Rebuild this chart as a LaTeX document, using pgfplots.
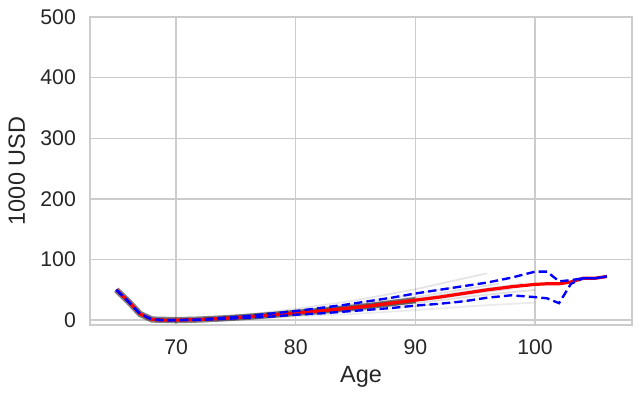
\documentclass[border=0pt]{standalone}
\usepackage{pgfplots}
\pgfplotsset{compat=1.18}
\usepackage{fontspec}
\setmainfont{Liberation Sans}
\definecolor{gridgray}{HTML}{CCCCCC}
\definecolor{textgray}{HTML}{262626}
\begin{document}
\begin{tikzpicture}
\useasboundingbox (0,0) rectangle (462.24pt,285.84pt);
\begin{axis}[
    at={(64.8pt,51.84pt)},
    anchor=south west,
    scale only axis,
    width=390.24pt,
    height=221.76pt,
    xmin=62.8, xmax=108.1,
    ymin=-8, ymax=500,
    xtick={70,80,90,100},
    ytick={0,100,200,300,400,500},
    major tick length=0pt,
    grid=major,
    grid style={gridgray, line width=1pt},
    axis line style={gridgray, line width=1.2pt},
    tick label style={font=\fontsize{15.3}{17}\selectfont, inner sep=0pt, text=textgray},
    /pgf/number format/assume math mode=true,
    xticklabel style={anchor=north, yshift=-10pt},
    yticklabel style={anchor=east, xshift=-10pt},
    xlabel={Age},
    ylabel={1000 USD},
    every axis x label/.style={at={(axis description cs:0.5,-0.188)}, anchor=base, text=textgray, font=\fontsize{16.9}{19}\selectfont},
    every axis y label/.style={at={(axis description cs:-0.12,0.5)}, anchor=base, rotate=90, text=textgray, font=\fontsize{16.9}{19}\selectfont},
]
% simulated paths (faint)
\addplot[black, opacity=0.10, line width=1.3pt] coordinates {(68,1) (70,0) (75,7) (80,18.6) (85,32.6) (90,51) (95,73) (96,77)};
\addplot[black, opacity=0.10, line width=1.3pt] coordinates {(68,1) (70,0) (75,5.9) (80,15.6) (85,27.3) (90,43) (94,57)};
\addplot[black, opacity=0.12, line width=1.3pt] coordinates {(68,1) (70,0) (75,5.2) (80,13.8) (85,24.2) (90,38) (95,54) (97,60)};
\addplot[black, opacity=0.14, line width=1.3pt] coordinates {(68,1) (70,0) (75,4.7) (80,12.6) (85,22) (90,34.6) (95,49.4) (99,60)};
\addplot[black, opacity=0.14, line width=1.3pt] coordinates {(68,1) (70,0) (75,4.3) (80,11.4) (85,20) (90,31.4) (95,44.7) (98,52)};
\addplot[black, opacity=0.12, line width=1.3pt] coordinates {(68,1) (70,0) (75,3.8) (80,10.2) (85,17.9) (90,28) (95,40) (100,50)};
\addplot[black, opacity=0.10, line width=1.3pt] coordinates {(68,1) (70,0) (75,3.2) (80,8.4) (85,14.7) (90,23.1) (95,32.9)};
\addplot[black, opacity=0.08, line width=1.3pt] coordinates {(68,1) (70,0) (75,2.3) (80,6) (85,10.5) (90,16.5) (95,23.5) (100,29)};
\addplot[black, opacity=0.18, line width=1.3pt] coordinates {(68,1) (70,0) (75,4.5) (80,12) (85,21) (90,33) (92,38)};
\addplot[black, opacity=0.18, line width=1.3pt] coordinates {(68,1) (70,0) (75,4.0) (80,10.8) (85,18.9) (90,29.7)};
\addplot[black, opacity=0.18, line width=1.3pt] coordinates {(68,1) (70,0) (75,5.0) (80,13.2) (85,23.1) (88,30)};
\addplot[black, opacity=0.5, line width=4.5pt] coordinates {(65,50) (66,31) (67,10) (68,1) (70,0) (72,1) (74,3) (76,5.5) (78,8.5) (80,12) (82,15) (84,19) (86,23) (88,28) (90,33)};
% median
\addplot[red, line width=2.3pt] coordinates {
(65,50) (66,31) (67,10) (68,1) (69,0) (70,0) (72,1) (74,3) (76,5.5) (78,8.5) (80,12) (82,15) (84,19) (86,23) (88,28) (90,33) (92,38) (94,44) (96,50) (98,55) (100,59) (101,60) (102,60) (103,63) (104,69) (105,69) (106,72)};
% bands
\addplot[blue, line width=1.7pt, dash pattern=on 6pt off 3pt] coordinates {
(65,50) (66,31) (67,10) (68,1) (69,0) (70,0) (72,1) (74,4) (76,7) (78,11) (80,15) (82,20) (84,25) (86,31) (88,37) (90,44) (92,50) (94,56) (96,62) (98,70) (100,80) (101,80) (102,64) (103,66) (104,69) (105,69) (106,72)};
\addplot[blue, line width=1.7pt, dash pattern=on 6pt off 3pt] coordinates {
(65,50) (66,31) (67,10) (68,1) (69,0) (70,0) (72,0.5) (74,2) (76,4) (78,6) (80,9) (82,11) (84,14) (86,17) (88,20) (90,24) (92,27) (94,31) (96,37) (98,41) (100,38) (101,36) (102,28) (103,60) (104,69) (105,69) (106,72)};
\end{axis}
\end{tikzpicture}
\end{document}
